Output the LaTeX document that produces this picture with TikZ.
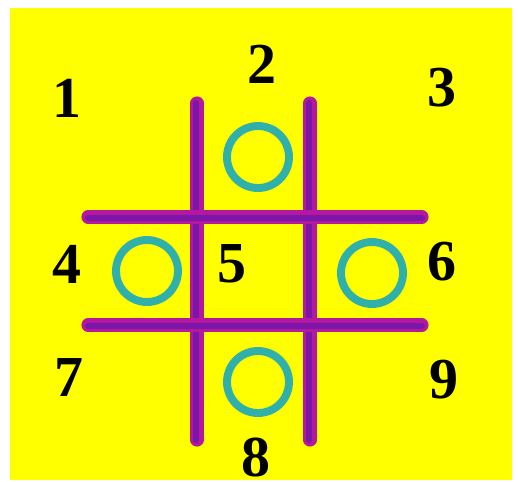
\documentclass[tikz,border=0pt]{standalone}
\usepackage{fontspec}
\setmainfont{Liberation Serif}
\usepackage{tikz}
\usetikzlibrary{positioning}
\definecolor{Board}{HTML}{FFFF00}
\definecolor{Grid}{HTML}{B3189E}
\definecolor{GridDark}{HTML}{7C16A8}
\definecolor{Ring}{HTML}{2FB0AA}

\begin{document}
\begin{tikzpicture}[x=0.02cm,y=-0.02cm,
  num/.style={inner sep=0pt,font=\fontsize{33}{33}\selectfont\bfseries},
  bar/.style={line width=7.5pt,line cap=round,color=Grid},
  barcore/.style={line width=3.5pt,line cap=round,color=GridDark},
  ring/.style={circle,draw=Ring,line width=4.5pt,minimum size=1.24cm,inner sep=0pt}]
\useasboundingbox (0,0) rectangle (518,481);
\fill[white] (0,0) rectangle (518,481);
\fill[Board] (10,8) rectangle (512,480);
% board
\foreach \x in {197,310} {
  \draw[bar] (\x,103) -- (\x,440);
  \draw[barcore] (\x-1,103) -- (\x-1,440);
}
\foreach \y in {217,325} {
  \draw[bar] (88,\y) -- (422,\y);
  \draw[barcore] (88,\y+1) -- (422,\y+1);
}
% noughts
\node[ring] (o2) at (258,157) {};
\node[ring] (o4) at (147,271) {};
\node[ring] (o6) at (372,273) {};
\node[ring] (o8) at (258,382) {};
% cell numbers
\node[num] (n1) at (67,98) {1};
\node[num] (n2) at (262,64) {2};
\node[num] (n3) at (442,88) {3};
\node[num] (n4) at (67,264) {4};
\node[num] (n5) at (232,264) {5};
\node[num] (n6) at (442,262) {6};
\node[num] (n7) at (69,378) {7};
\node[num] (n8) at (256,457) {8};
\node[num] (n9) at (444,380) {9};
\end{tikzpicture}
\end{document}
